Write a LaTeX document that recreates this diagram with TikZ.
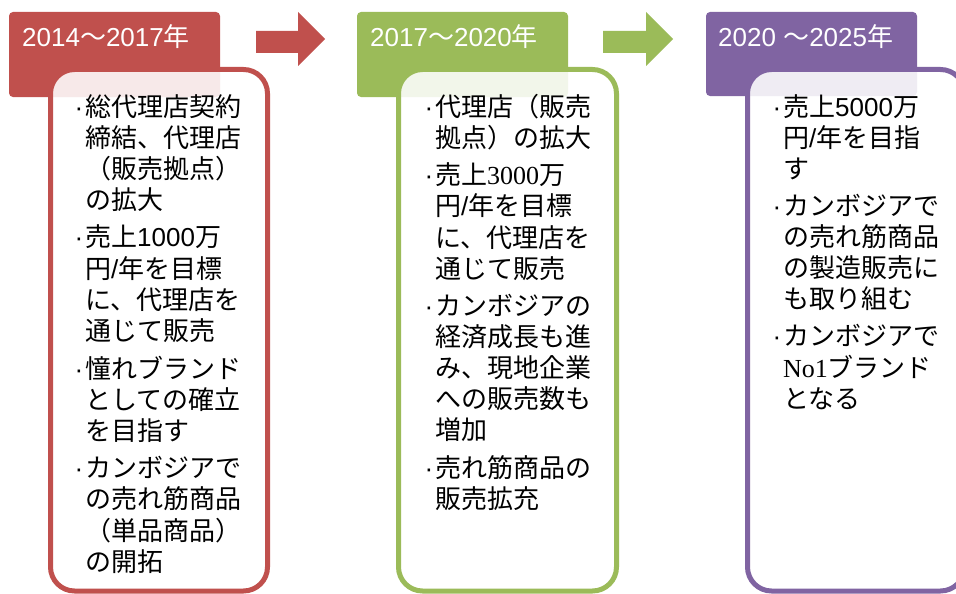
\documentclass[tikz,border=0pt]{standalone}
\usepackage{fontspec}
\setmainfont{Noto Sans CJK JP}
\newfontfamily\latf{Liberation Sans}
\newfontfamily\serf{Liberation Serif}
\definecolor{cred}{HTML}{C0504D}
\definecolor{cgreen}{HTML}{9BBB59}
\definecolor{cpurple}{HTML}{8064A2}
\newcommand\bul{\makebox[0pt][r]{{\latf ·}\hspace{2pt}}}
\tikzset{
  header/.style={fill=#1, draw=none, rounded corners=4pt},
  bodybox/.style={draw=#1, line width=5pt, fill=white, fill opacity=0.88, rounded corners=24pt},
  arrowshape/.style={fill=#1, draw=none},
  htext/.style={anchor=base west, inner sep=0pt, text=white, font=\fontsize{26}{30}\selectfont},
  btext/.style={anchor=base west, inner sep=0pt, text=black, font=\fontsize{26}{31}\selectfont},
}
\begin{document}
\begin{tikzpicture}[x=1pt,y=-1pt]
\useasboundingbox (0,0) rectangle (956,594);
\clip (0,0) rectangle (956,594);
% headers
\path[header=cred] (9,12) rectangle (220,97);
\path[header=cgreen] (357,12) rectangle (568,97);
\path[header=cpurple] (706,12) rectangle (917,96);
% arrows
\path[arrowshape=cred] (256,31) -- (298,31) -- (298,12) -- (325,39) -- (298,66) -- (298,53) -- (256,53) -- cycle;
\path[arrowshape=cgreen] (603,31) -- (646,31) -- (646,12) -- (673,39) -- (646,66) -- (646,53) -- (603,53) -- cycle;
% header texts
\node[htext] (t1) at (22,47) {{\latf 2014}～{\latf 2017}年};
\node[htext] (t2) at (370,47) {{\latf 2017}～{\latf 2020}年};
\node[htext] (t3) at (718,47) {{\latf 2020 }～{\latf 2025}年};
% bodies
\path[bodybox=cred] (50.5,69.5) rectangle (267.5,591);
\path[bodybox=cgreen] (398.5,69.5) rectangle (616.5,591);
\path[bodybox=cpurple] (747.5,69.5) rectangle (964.5,591);
% body texts
\node[btext] (x1) at (85,116) {\begin{tabular}[t]{@{}l@{}}
\bul 総代理店契約\\
締結、代理店\\
（販売拠点）\\
の拡大\\[6pt]
\bul 売上{\latf 1000}万\\
円{\latf /}年を目標\\
に、代理店を\\
通じて販売\\[6pt]
\bul 憧れブランド\\
としての確立\\
を目指す\\[6pt]
\bul カンボジアで\\
の売れ筋商品\\
（単品商品）\\
の開拓
\end{tabular}};
\node[btext] (x2) at (435,116) {\begin{tabular}[t]{@{}l@{}}
\bul 代理店（販売\\
拠点）の拡大\\[6pt]
\bul 売上{\serf 3000}万\\
円{\latf /}年を目標\\
に、代理店を\\
通じて販売\\[6pt]
\bul カンボジアの\\
経済成長も進\\
み、現地企業\\
への販売数も\\
増加\\[6pt]
\bul 売れ筋商品の\\
販売拡充
\end{tabular}};
\node[btext] (x3) at (783,116) {\begin{tabular}[t]{@{}l@{}}
\bul 売上{\latf 5000}万\\
円{\latf /}年を目指\\
す\\[6pt]
\bul カンボジアで\\
の売れ筋商品\\
の製造販売に\\
も取り組む\\[6pt]
\bul カンボジアで\\
{\serf No1}ブランド\\
となる
\end{tabular}};
\end{tikzpicture}
\end{document}
